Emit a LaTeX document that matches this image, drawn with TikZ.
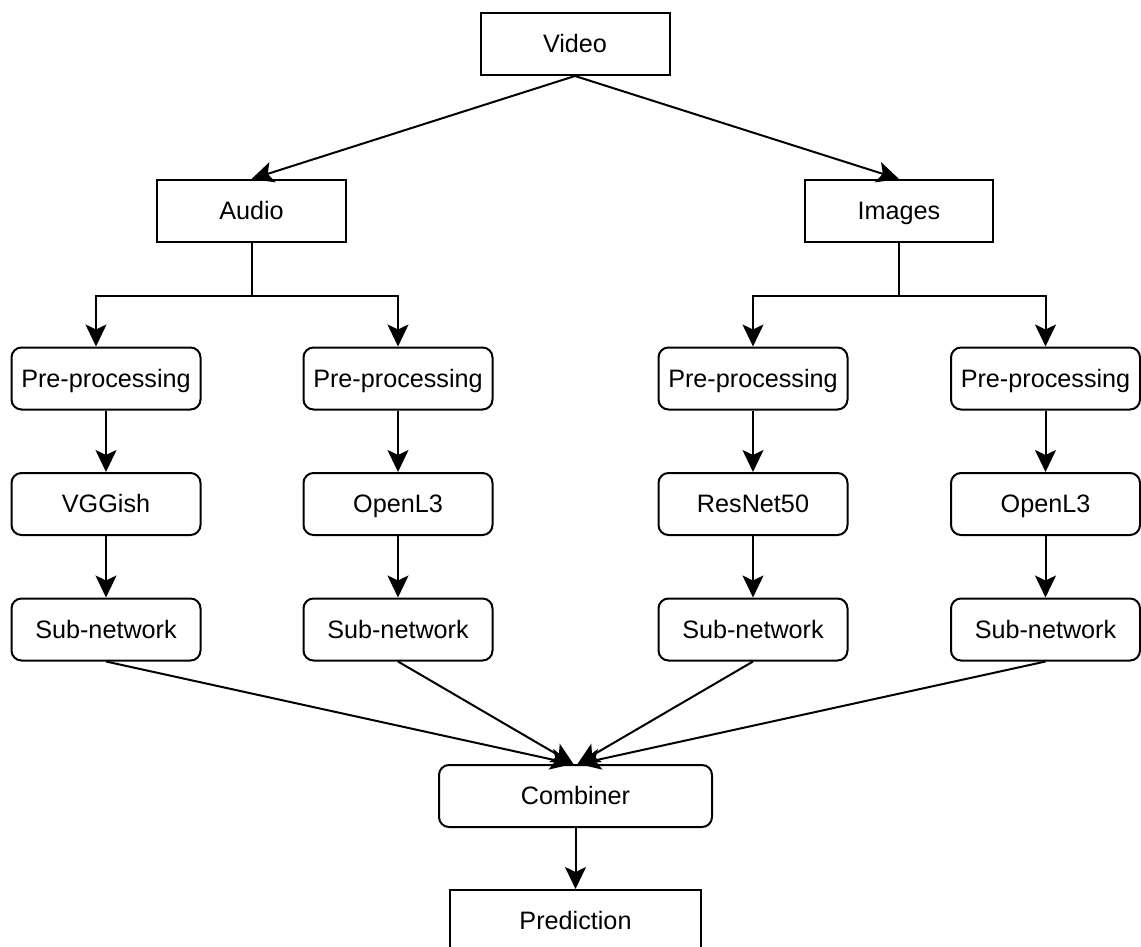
\documentclass[tikz,border=0pt]{standalone}
\usepackage{fontspec}
\setmainfont{Liberation Sans}
\usetikzlibrary{arrows.meta}
\begin{document}
\begin{tikzpicture}[x=1pt,y=-1pt,
  box/.style={draw=black, line width=2pt, minimum width=189pt, minimum height=62pt,
    inner sep=0pt, text height=17.9pt, text depth=0pt,
    font=\fontsize{25.2}{30}\selectfont},
  rbox/.style={box, rounded corners=10pt},
  arr/.style={draw=black, line width=2pt, -{Stealth[length=22pt,width=21pt,inset=5pt]}},
  ln/.style={draw=black, line width=2pt}]
\useasboundingbox (0,0) rectangle (1141,947);
\node[box] (video) at (575,44) {Video};
\node[box] (audio) at (251.5,211) {Audio};
\node[box, minimum width=188pt] (images) at (899,211) {Images};
\node[rbox] (pa1) at (106,378.5) {Pre-processing};
\node[rbox] (pa2) at (398,378.5) {Pre-processing};
\node[rbox] (pi1) at (753,378.5) {Pre-processing};
\node[rbox] (pi2) at (1045.5,378.5) {Pre-processing};
\node[rbox] (ma1) at (106,504) {VGGish};
\node[rbox] (ma2) at (398,504) {OpenL3};
\node[rbox] (mi1) at (753,504) {ResNet50};
\node[rbox] (mi2) at (1045.5,504) {OpenL3};
\node[rbox] (sa1) at (106,629.5) {Sub-network};
\node[rbox] (sa2) at (398,629.5) {Sub-network};
\node[rbox] (si1) at (753,629.5) {Sub-network};
\node[rbox] (si2) at (1045.5,629.5) {Sub-network};
\node[rbox, minimum width=273pt] (comb) at (575.5,796) {Combiner};
\node[box, minimum width=251pt] (pred) at (575.5,921) {Prediction};
\draw[arr] (video.south) -- (audio.north);
\draw[arr] (video.south) -- (images.north);
\draw[arr] (audio.south) -- ++(0,53) -| ([xshift=-10pt]pa1.north);
\draw[arr] (audio.south) -- ++(0,53) -| (pa2.north);
\draw[arr] (images.south) -- ++(0,53) -| (pi1.north);
\draw[arr] (images.south) -- ++(0,53) -| (pi2.north);
\foreach \p/\m/\s in {pa1/ma1/sa1, pa2/ma2/sa2, pi1/mi1/si1, pi2/mi2/si2} {
  \draw[arr] (\p.south) -- (\m.north);
  \draw[arr] (\m.south) -- (\s.north);
}
\draw[arr] (sa1.south) -- ([xshift=-3pt]comb.north);
\draw[arr] (sa2.south) -- ([xshift=-2pt]comb.north);
\draw[arr] (si1.south) -- ([xshift=2pt]comb.north);
\draw[arr] (si2.south) -- ([xshift=3pt]comb.north);
\draw[arr] (comb.south) -- (pred.north);
\end{tikzpicture}
\end{document}
